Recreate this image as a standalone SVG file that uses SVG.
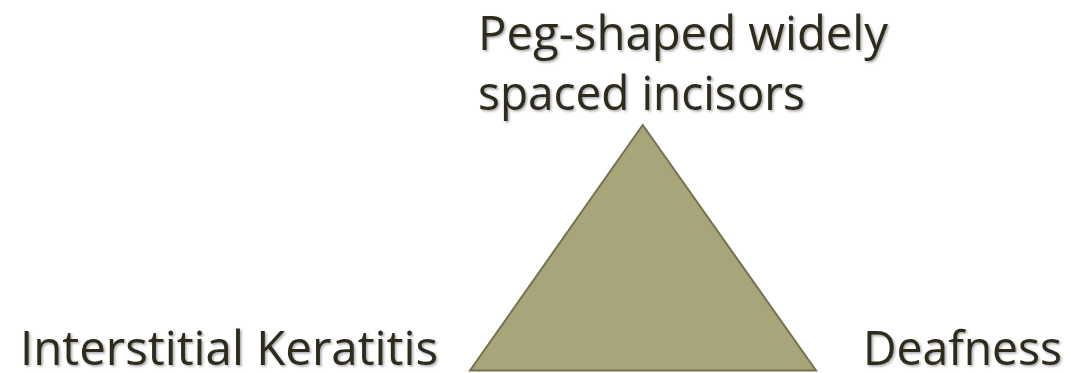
<svg xmlns="http://www.w3.org/2000/svg" width="1071" height="373" viewBox="0 0 1071 373">
  <defs>
    <filter id="sh" x="-5%" y="-20%" width="110%" height="140%">
      <feDropShadow dx="1.5" dy="1.5" stdDeviation="1" flood-color="#000" flood-opacity="0.35"/>
    </filter>
    <style>
      .lbl { font-family: "Open Sans", "Noto Sans", sans-serif; font-size: 47px; fill: #2D2A1F; filter: url(#sh); }
      .tri { fill: #A8A57B; stroke: #75724F; stroke-width: 2; }
    </style>
  </defs>
  <rect width="1071" height="373" fill="#FFFFFF"/>
  <g id="triangle">
    <polygon class="tri" points="642.7,125 470,370.5 816,370.5"/>
  </g>
  <g id="node-top">
    <text class="lbl" x="478" y="50" textLength="410" lengthAdjust="spacingAndGlyphs">Peg-shaped widely</text>
    <text class="lbl" x="478" y="110" textLength="327" lengthAdjust="spacingAndGlyphs">spaced incisors</text>
  </g>
  <g id="node-left">
    <text class="lbl" x="20" y="365" textLength="418" lengthAdjust="spacingAndGlyphs">Interstitial Keratitis</text>
  </g>
  <g id="node-right">
    <text class="lbl" x="863" y="365" textLength="199" lengthAdjust="spacingAndGlyphs">Deafness</text>
  </g>
  <g id="connectors"/>
</svg>
